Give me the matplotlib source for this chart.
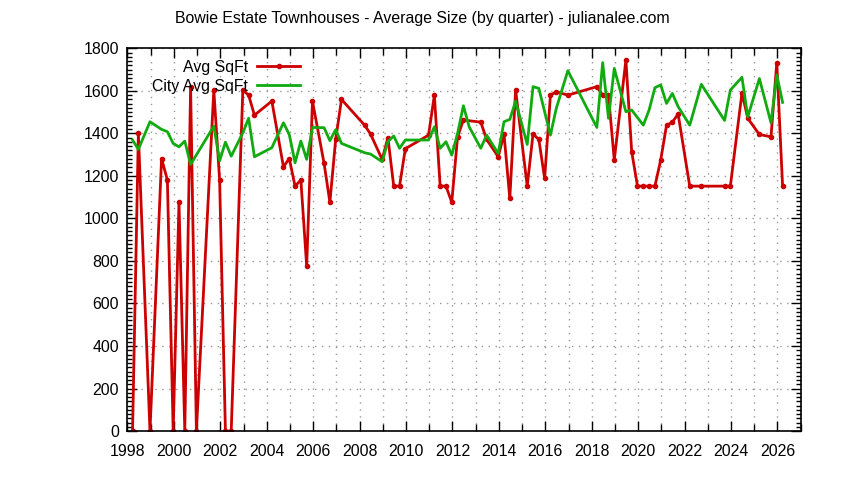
import matplotlib.pyplot as plt
from matplotlib.ticker import MultipleLocator

plt.rcParams['font.family'] = ['Liberation Sans', 'DejaVu Sans']

# quarterly points (decimal year) and average sq ft
years = [1998.22, 1998.47, 1998.97, 1999.47, 1999.72, 1999.97, 2000.22, 2000.47,
         2000.72, 2000.97, 2001.72, 2001.97, 2002.22, 2002.47, 2002.97, 2003.22,
         2003.47, 2004.22, 2004.72, 2004.97, 2005.22, 2005.47, 2005.72, 2005.97,
         2006.47, 2006.72, 2006.97, 2007.22, 2008.22, 2008.47, 2008.97, 2009.22,
         2009.47, 2009.72, 2009.97, 2010.97, 2011.22, 2011.47, 2011.72, 2011.97,
         2012.22, 2012.47, 2013.22, 2013.47, 2013.97, 2014.22, 2014.47, 2014.72,
         2015.22, 2015.47, 2015.72, 2015.97, 2016.22, 2016.47, 2016.97, 2018.22,
         2018.47, 2018.72, 2018.97, 2019.47, 2019.72, 2019.97, 2020.22, 2020.47,
         2020.72, 2020.97, 2021.22, 2021.47, 2021.72, 2022.22, 2022.72, 2023.72,
         2023.97, 2024.47, 2024.72, 2025.22, 2025.72, 2025.97, 2026.22]
avg_sqft = [0, 1400, 0, 1282, 1181, 0, 1076, 0,
            1620, 0, 1604, 1181, 0, 0, 1604, 1580,
            1486, 1552, 1243, 1282, 1152, 1181, 776, 1552,
            1259, 1076, 1372, 1560, 1438, 1397, 1278, 1380,
            1152, 1152, 1328, 1392, 1580, 1152, 1152, 1076,
            1384, 1463, 1453, 1372, 1290, 1397, 1094, 1604,
            1152, 1397, 1372, 1188, 1580, 1596, 1580, 1620,
            1580, 1580, 1275, 1745, 1314, 1152, 1152, 1152,
            1152, 1275, 1438, 1453, 1491, 1152, 1152, 1152,
            1152, 1591, 1471, 1395, 1384, 1733, 1152]

city_years = [1998.22, 1998.47, 1998.97, 1999.47, 1999.72, 1999.97, 2000.22, 2000.47,
              2000.72, 2001.72, 2001.97, 2002.22, 2002.47, 2002.97, 2003.22, 2003.47,
              2004.22, 2004.72, 2004.97, 2005.22, 2005.47, 2005.72, 2005.97, 2006.47,
              2006.72, 2006.97, 2007.22, 2008.22, 2008.47, 2008.97, 2009.22, 2009.47,
              2009.72, 2009.97, 2010.97, 2011.22, 2011.47, 2011.72, 2011.97, 2012.22,
              2012.47, 2012.72, 2013.22, 2013.47, 2013.97, 2014.22, 2014.47, 2014.72,
              2015.22, 2015.47, 2015.72, 2016.22, 2016.47, 2016.97, 2018.22, 2018.47,
              2018.72, 2018.97, 2019.47, 2019.72, 2020.22, 2020.47, 2020.72, 2020.97,
              2021.22, 2021.47, 2021.72, 2022.22, 2022.72, 2023.72, 2023.97, 2024.47,
              2024.72, 2025.22, 2025.72, 2025.97, 2026.22]
city_sqft = [1369, 1325, 1455, 1419, 1408, 1353, 1337, 1364,
             1254, 1434, 1271, 1359, 1293, 1403, 1471, 1290,
             1333, 1450, 1395, 1262, 1364, 1278, 1428, 1427,
             1366, 1418, 1353, 1309, 1303, 1267, 1361, 1388,
             1330, 1369, 1369, 1431, 1330, 1361, 1298, 1400,
             1530, 1431, 1330, 1392, 1306, 1455, 1466, 1552,
             1348, 1620, 1612, 1392, 1517, 1695, 1428, 1733,
             1471, 1706, 1502, 1510, 1439, 1510, 1615, 1628,
             1541, 1588, 1526, 1439, 1631, 1461, 1604, 1664,
             1478, 1658, 1450, 1675, 1546]

fs = 11.4

fig = plt.figure(figsize=(8.44, 4.8), dpi=100)
ax = fig.add_axes([0.151, 0.102, 0.7977, 0.7972])

ax.plot(years, avg_sqft, color='#cc0000', lw=2, marker='o', ms=3, label='Avg SqFt')
ax.plot(city_years, city_sqft, color='#11aa11', lw=2, label='City Avg SqFt')

ax.set_xlim(1998, 2027)
ax.set_ylim(0, 1800)
ax.xaxis.set_major_locator(MultipleLocator(2))
ax.xaxis.set_minor_locator(MultipleLocator(1))
ax.yaxis.set_major_locator(MultipleLocator(200))
ax.yaxis.set_minor_locator(MultipleLocator(20))
ax.tick_params(which='both', direction='in', top=True, right=True, labelsize=fs)
ax.tick_params(which='major', length=7, width=1)
ax.tick_params(which='minor', length=3.5, width=1)
ax.tick_params(axis='x', which='minor', length=5)
ax.tick_params(axis='x', pad=9)
ax.tick_params(axis='y', pad=6)

ax.grid(True, which='major', color='#999999', ls=(0, (1, 4)), lw=1)
ax.grid(True, which='minor', axis='x', color='#999999', ls=(0, (1, 4)), lw=1)

for s in ax.spines.values():
    s.set_linewidth(1.2)

ax.legend(loc='upper right', bbox_to_anchor=(300 / 844, 1 - 60 / 480),
          bbox_transform=fig.transFigure, frameon=False, markerfirst=False,
          handlelength=2.7, handletextpad=0.6, borderpad=0, borderaxespad=0,
          labelspacing=0.25, fontsize=fs)

fig.text(0.5, 1 - 18 / 480, 'Bowie Estate Townhouses - Average Size (by quarter) - julianalee.com',
         ha='center', va='center', fontsize=fs)

fig.savefig('out.png', dpi=100)
